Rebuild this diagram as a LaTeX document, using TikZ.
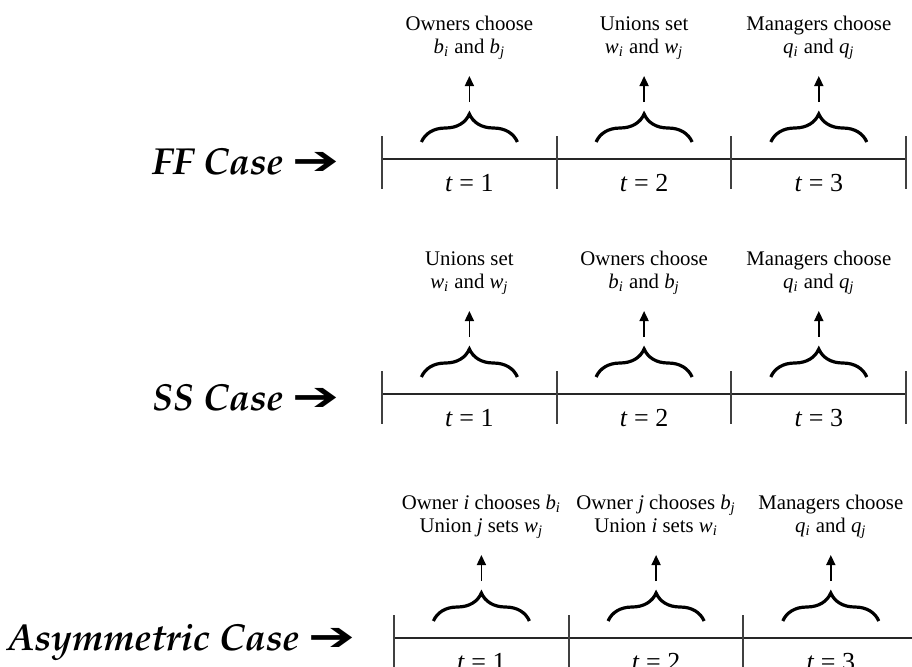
\documentclass[tikz,border=0pt]{standalone}
\usepackage[T1]{fontenc}
\usepackage{fontspec}
\setmainfont{Liberation Serif}
\newfontfamily\arrowfont{DejaVu Sans}
\usetikzlibrary{arrows.meta,calc,decorations.pathreplacing,positioning}
\newcommand{\casefont}{\fontencoding{T1}\fontfamily{ppl}\fontseries{b}\fontshape{it}\fontsize{18.8}{22}\selectfont}
\newcommand{\vsub}[2]{\textit{#1}\textsubscript{\textit{#2}}}
\newcommand{\casearrow}{{\arrowfont\bfseries\fontsize{20}{22}\selectfont\scalebox{1.4}[1]{➔}}}

\begin{document}
\begin{tikzpicture}[x=0.5pt,y=-0.5pt,
    axisline/.style={line width=0.9pt,black!85},
    tickmark/.style={line width=1pt,black!75},
    bracemark/.style={decorate,decoration={brace,amplitude=14pt,aspect=0.5},line width=1.6pt},
    up/.style={-{Triangle[length=5pt,width=4.5pt]},line width=0.8pt},
    period/.style={font=\fontsize{13}{15}\selectfont,inner sep=0pt},
    event/.style={font=\fontsize{10.4}{11.2}\selectfont,align=center,inner sep=0pt,text depth=3.3pt},
    caselabel/.style={anchor=east,inner sep=0pt}]
  \useasboundingbox (0,0) rectangle (912,666);

  % the three timelines
  \foreach \r/\yl/\xo in {ff/159/382, ss/394/382, as/638/394}{
    \draw[axisline] (\xo,\yl) coordinate (\r-start) -- ++(524,0) coordinate (\r-end);
    \foreach \s in {0,...,3}
      \draw[tickmark] (\xo+\s*174.7,\yl-23) -- (\xo+\s*174.7,\yl+30);
    \foreach \s in {1,2,3}{
      \pgfmathsetmacro{\xm}{\xo+\s*174.7-87.3}
      \node[period] (\r-t\s) at (\xm,\yl+24) {\textit{t} = \s};
      \draw[bracemark] (\xm-48,\yl-17) -- (\xm+48,\yl-17);
      \coordinate (\r-b\s) at (\xm,\yl-57);
      \coordinate (\r-a\s) at (\xm,\yl-83);
    }
  }

  % what happens in each period
  \foreach \r/\s/\txt in {
    ff/1/{Owners choose\\\vsub{b}{i} and \vsub{b}{j}},
    ff/2/{Unions set\\\vsub{w}{i} and \vsub{w}{j}},
    ff/3/{Managers choose\\\vsub{q}{i} and \vsub{q}{j}},
    ss/1/{Unions set\\\vsub{w}{i} and \vsub{w}{j}},
    ss/2/{Owners choose\\\vsub{b}{i} and \vsub{b}{j}},
    ss/3/{Managers choose\\\vsub{q}{i} and \vsub{q}{j}},
    as/1/{Owner \textit{i} chooses \vsub{b}{i}\\Union \textit{j} sets \vsub{w}{j}},
    as/2/{Owner \textit{j} chooses \vsub{b}{j}\\Union \textit{i} sets \vsub{w}{i}},
    as/3/{Managers choose\\\vsub{q}{i} and \vsub{q}{j}}%
  }{
    \node[event,anchor=south,above=8pt of \r-a\s] (\r-e\s) {\txt};
    \draw[up] (\r-b\s) -- (\r-a\s);
  }

  % case names
  \node[caselabel] (ff-name) at (340,161) {\casefont FF Case \casearrow};
  \node[caselabel] (ss-name) at (340,397) {\casefont SS Case \casearrow};
  \node[caselabel] (as-name) at (356,642) {\casefont Asymmetric Case \casearrow};
\end{tikzpicture}
\end{document}
